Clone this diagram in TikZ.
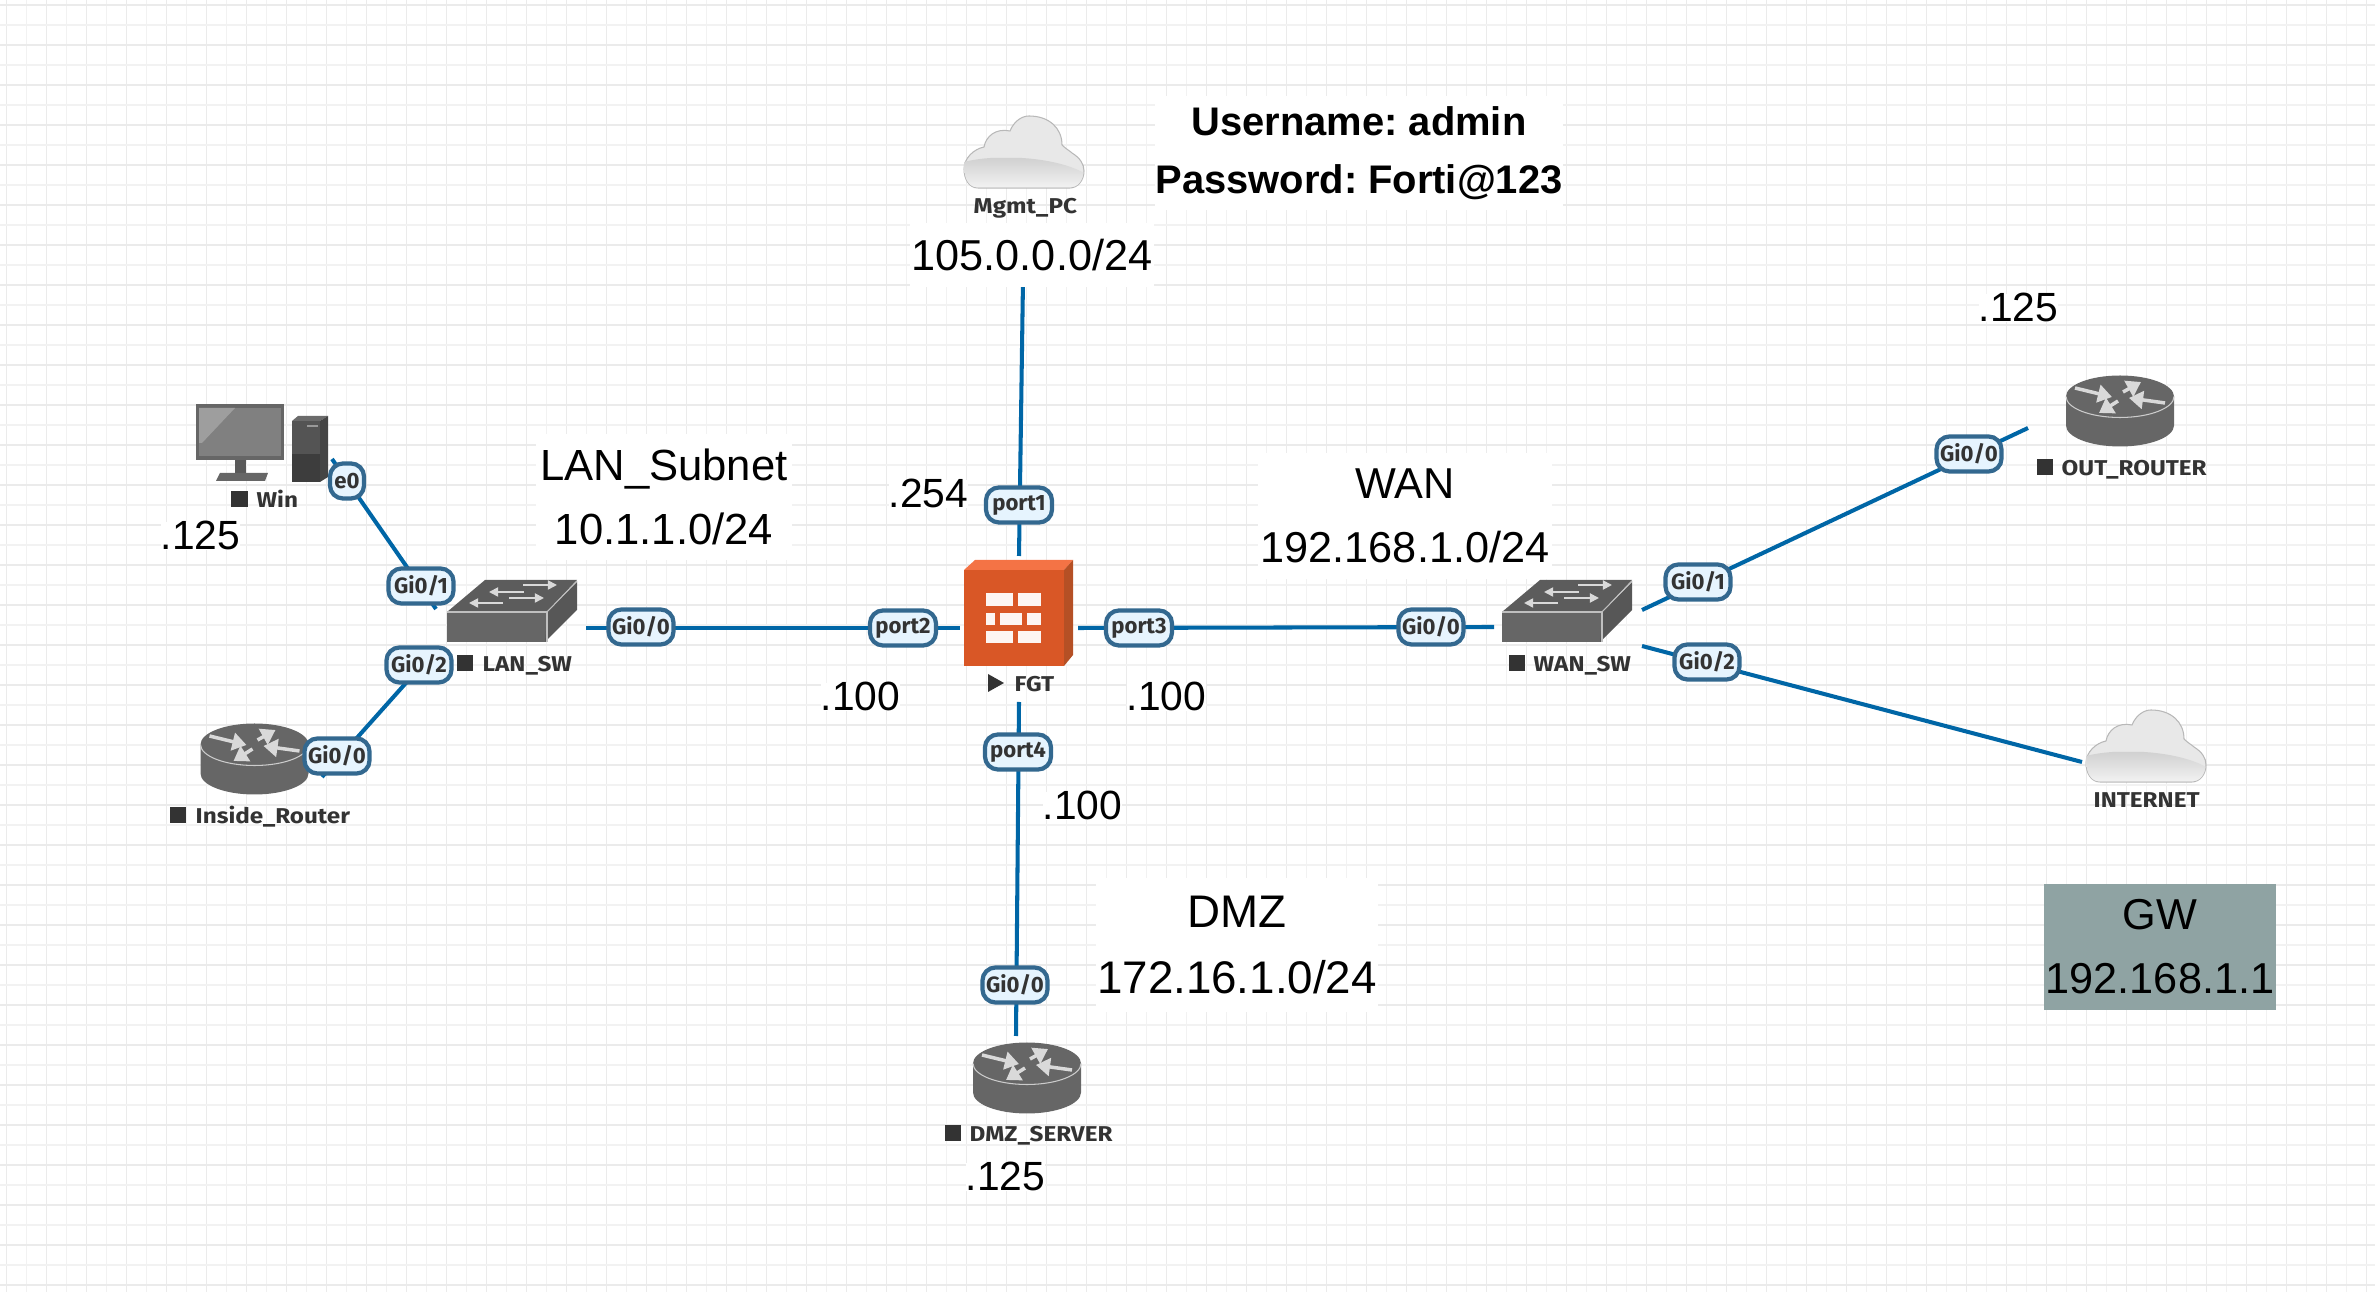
\documentclass[tikz,border=0pt]{standalone}
\usepackage{fontspec}
\setmainfont{Liberation Sans}
\newfontfamily\iconfont{Fira Sans}[FakeStretch=1.13]
\newfontfamily\tagfont{Fira Sans}
\usetikzlibrary{arrows.meta}

\definecolor{linkblue}{HTML}{0066A6}
\definecolor{pilledge}{HTML}{33688F}
\definecolor{pillfill}{HTML}{E6F4FE}
\definecolor{icongray}{HTML}{666666}
\definecolor{labeldark}{HTML}{333333}
\definecolor{gwgray}{HTML}{8FA3A3}
\definecolor{fwtop}{HTML}{F47345}
\definecolor{fwfront}{HTML}{D95726}
\definecolor{fwside}{HTML}{B55025}

\tikzset{
  gridmajor/.style={draw=black!8, line width=.45pt},
  gridminor/.style={draw=black!5, line width=.45pt},
  link/.style={draw=linkblue, line width=1.15pt},
  pillbox/.style={draw=pilledge, fill=pillfill, line width=1.2pt, rounded corners=.13cm,
    inner sep=0pt, minimum height=.35cm, minimum width=#1, text=labeldark,
    font=\tagfont\bfseries\fontsize{6.3}{7}\selectfont},
  pillbox/.default=.65cm,
  nettext/.style={fill=white, align=center, inner sep=0pt, text=black,
    font=\fontsize{12.3}{18.2}\selectfont},
  hosttext/.style={anchor=base west, fill=white, inner sep=0pt, text=black,
    font=\fontsize{11.6}{14}\selectfont},
  devtext/.style={anchor=base west, inner sep=0pt, text=labeldark,
    font=\iconfont\bfseries\fontsize{6.1}{7}\selectfont},
  stopmark/.style={fill=labeldark, inner sep=0pt, minimum size=.16cm},
  wedge/.style={draw=white!85!black, line width=1pt, -{Triangle[width=5pt,length=4pt]}},
  router/.pic={
    \fill[icongray] (-54,-14.5) .. controls (-54,-26) and (-30,-35.5) .. (0,-35.5)
      .. controls (30,-35.5) and (54,-26) .. (54,-14.5) -- (54,14.5)
      .. controls (54,26) and (30,35.5) .. (0,35.5)
      .. controls (-30,35.5) and (-54,26) .. (-54,14.5) -- cycle;
    \draw[white!80!black, line width=.3pt] (-54,-14.5) .. controls (-54,-3) and (-30,6.5) .. (0,6.5)
      .. controls (30,6.5) and (54,-3) .. (54,-14.5);
    \draw[wedge] (-45,-23) -- (-8,-14);
    \draw[wedge] (3,-19) -- (21,-29);
    \draw[wedge] (45,-8) -- (9,-13);
    \draw[wedge] (-2,-10) -- (-21,2);
  },
  switchbox/.pic={
    \fill[icongray!90!black] (0,32) -- (38,0) -- (130,0) -- (100,32) -- cycle;
    \fill[icongray] (0,32) rectangle (100,62);
    \fill[icongray!110!white] (100,32) -- (130,2) -- (130,30) -- (98,62) -- cycle;
    \draw[white!75!black, line width=.3pt] (0,32) -- (100,32) -- (100,62);
    \draw[white!75!black, line width=.3pt] (100,32) -- (130,1);
    \foreach \ax/\bx/\yy in {76/110/5, 77/42/12, 62/97/18, 56/22/23}
      \draw[draw=white!85!black, line width=.5pt, -{Triangle[width=2.6pt,length=2.6pt]}] (\ax,\yy) -- (\bx,\yy);
  },
  cloudbox/.pic={
    \path[pic actions, draw=black!28, line width=.3pt, fill=black!9]
      (14,72) .. controls (5,72) and (0,63) .. (0,53)
      .. controls (0,42) and (10,33) .. (20,31)
      .. controls (22,20) and (32,12) .. (46,15)
      .. controls (50,5) and (58,0) .. (65,0)
      .. controls (85,0) and (98,12) .. (98,29)
      .. controls (102,33) and (106,35) .. (108,37)
      .. controls (116,42) and (120,48) .. (120,55)
      .. controls (120,65) and (113,72) .. (106,72) -- cycle;
    \begin{scope}
      \clip (14,71.5) .. controls (5,71.5) and (.5,63) .. (.5,53) -- (.5,42) -- (119.5,42) -- (119.5,55)
        .. controls (119.5,65) and (113,71.5) .. (106,71.5) -- cycle;
      \shade[top color=black!20, bottom color=black!5]
        (0,46) .. controls (30,38) and (90,40) .. (120,57) -- (120,72) -- (0,72) -- cycle;
    \end{scope}
  },
}

\begin{document}
\frenchspacing
\begin{tikzpicture}[x=.01cm, y=-.01cm]
  \useasboundingbox (0,0) rectangle (2375,1292);
  % background grid
  \foreach \i in {0,...,59} {
    \draw[gridminor] ({26.67+40*\i},0) -- ({26.67+40*\i},1292);
    \draw[gridmajor] ({6.67+40*\i},0) -- ({6.67+40*\i},1292);
  }
  \foreach \i in {0,...,32} {
    \draw[gridminor] (0,{25+40*\i}) -- (2375,{25+40*\i});
    \draw[gridmajor] (0,{5+40*\i}) -- (2375,{5+40*\i});
  }

  % link ends
  \coordinate (win_end) at (332,459);
  \coordinate (lan_top) at (436,609);
  \coordinate (lan_low) at (422,665);
  \coordinate (inside_end) at (322,777);
  \coordinate (lan_east) at (586,628);
  \coordinate (fgt_west) at (960,628);
  \coordinate (fgt_north) at (1019,556);
  \coordinate (mgmt_end) at (1023,280);
  \coordinate (fgt_east) at (1078,628);
  \coordinate (wan_west) at (1494,627);
  \coordinate (fgt_south) at (1019,702);
  \coordinate (dmz_end) at (1016,1036);
  \coordinate (wan_up) at (1642,610);
  \coordinate (out_end) at (2028,428);
  \coordinate (wan_low) at (1642,646);
  \coordinate (inet_end) at (2082,762);

  \draw[link] (win_end) -- (lan_top);
  \draw[link] (lan_low) -- (inside_end);
  \draw[link] (lan_east) -- (fgt_west);
  \draw[link] (mgmt_end) -- (fgt_north);
  \draw[link] (fgt_east) -- (wan_west);
  \draw[link] (fgt_south) -- (dmz_end);
  \draw[link] (wan_up) -- (out_end);
  \draw[link] (wan_low) -- (inet_end);

  % notes on the subnets
  \node[nettext, font=\bfseries\fontsize{11.35}{16.5}\selectfont, minimum width=4.06cm, minimum height=1.14cm] (cred) at (1359,153) {Username: admin\\Password: Forti@123};
  \node[nettext, minimum width=2.44cm, minimum height=.64cm] (mgmt_net) at (1032,255) {105.0.0.0/24};
  \node[nettext, font=\fontsize{12.4}{18.2}\selectfont, minimum width=2.56cm, minimum height=1.25cm] (lan_net) at (664,497) {LAN\_Subnet\\10.1.1.0/24};
  \node[nettext, minimum width=2.94cm, minimum height=1.26cm] (wan_net) at (1405,516) {WAN\\192.168.1.0/24};
  \node[nettext, font=\fontsize{13}{19}\selectfont, minimum width=2.82cm, minimum height=1.33cm] (dmz_net) at (1237,945) {DMZ\\172.16.1.0/24};
  \node[nettext, fill=gwgray, minimum width=2.32cm, minimum height=1.26cm] (gw_net) at (2160,947) {GW\\192.168.1.1};

  \node[hosttext] (win_ip) at (160,550) {.125};
  \node[hosttext] (out_ip) at (1978,322) {.125};
  \node[hosttext] (dmz_ip) at (965,1191) {.125};
  \node[hosttext] (mgmt_ip) at (888,508) {.254};
  \node[hosttext] (lan_ip) at (820,711) {.100};
  \node[hosttext] (wan_ip) at (1126,711) {.100};
  \node[hosttext] (south_ip) at (1042,820) {.100};

  % devices
  \fill[icongray] (196,404) rectangle (284,460);
  \fill[black!50] (199,408) rectangle (281,456);
  \fill[black!38] (199,408) -- (235,408) -- (202,443) -- (199,443) -- cycle;
  \fill[black!65] (235,460) rectangle (246,473);
  \fill[icongray] (216,481) -- (220,473) -- (268,473) -- (265,481) -- cycle;
  \fill[black!67] (292,421) rectangle (320,454);
  \fill[black!76] (292,454) rectangle (320,482);
  \fill[black!58] (292,421) -- (298,416) -- (328,416) -- (320,421) -- cycle;
  \fill[black!73] (320,421) -- (328,416) -- (328,477) -- (320,482) -- cycle;
  \fill[black!40] (307,425) rectangle (318,427);

  \pic at (254.5,759) {router};
  \pic at (1027,1078) {router};
  \pic at (2120,411) {router};
  \pic at (447,580) {switchbox};
  \pic at (1502,580) {switchbox};
  \pic at (964,116) {cloudbox};
  \pic at (2086,710) {cloudbox};

  % firewall
  \fill[fwtop] (964,570) -- (975,560) -- (1073,560) -- (1064,570) -- cycle;
  \fill[fwfront] (964,570) rectangle (1064,666);
  \fill[fwside] (1064,570) -- (1073,560) -- (1073,655) -- (1064,666) -- cycle;
  \foreach \xa/\xb/\ya/\yb in {986/1013/593/606, 1018/1041/593/606,
      986/995/613/625, 1000/1022/613/625, 1027/1041/613/625,
      986/1013/631/643, 1018/1041/631/643}
    \fill[white!94!fwfront] (\xa,\ya) rectangle (\xb,\yb);

  % device names
  \node[stopmark] (win_mark) at (239.5,499) {};
  \node[devtext] (win_name) at (256,508) {Win};
  \node[stopmark] (lan_mark) at (465,663) {};
  \node[devtext] (lan_name) at (482,672) {LAN\_SW};
  \node[stopmark] (inside_mark) at (178,815) {};
  \node[devtext] (inside_name) at (195,824) {Inside\_Router};
  \node[stopmark] (wan_mark) at (1516.5,663) {};
  \node[devtext] (wan_name) at (1533,672) {WAN\_SW};
  \node[stopmark] (out_mark) at (2044.5,467) {};
  \node[devtext] (out_name) at (2061,476) {OUT\_ROUTER};
  \node[stopmark] (dmz_mark) at (952.5,1133) {};
  \node[devtext] (dmz_name) at (969,1142) {DMZ\_SERVER};
  \node[devtext] (mgmt_name) at (973,214) {Mgmt\_PC};
  \node[devtext] (inet_name) at (2093,808) {INTERNET};
  \fill[labeldark] (988,674) -- (1004,683) -- (988,692) -- cycle;
  \node[devtext] (fgt_name) at (1014,692) {FGT};

  % interface tags
  \node[pillbox=.34cm] (win_e0) at (347,481) {e0};
  \node[pillbox] (lan_g1) at (421,586) {Gi0/1};
  \node[pillbox] (lan_g2) at (419,665) {Gi0/2};
  \node[pillbox] (inside_g0) at (337,756) {Gi0/0};
  \node[pillbox] (lan_g0) at (641,627) {Gi0/0};
  \node[pillbox=.66cm] (fgt_p1) at (1019,505) {port1};
  \node[pillbox=.66cm] (fgt_p2) at (903,628) {port2};
  \node[pillbox=.66cm] (fgt_p3) at (1139,628) {port3};
  \node[pillbox=.66cm] (fgt_p4) at (1018,752) {port4};
  \node[pillbox] (dmz_g0) at (1015,985) {Gi0/0};
  \node[pillbox] (wan_g0) at (1431,627) {Gi0/0};
  \node[pillbox] (wan_g1) at (1698,582) {Gi0/1};
  \node[pillbox] (wan_g2) at (1707,662) {Gi0/2};
  \node[pillbox] (out_g0) at (1969,454) {Gi0/0};
\end{tikzpicture}
\end{document}
